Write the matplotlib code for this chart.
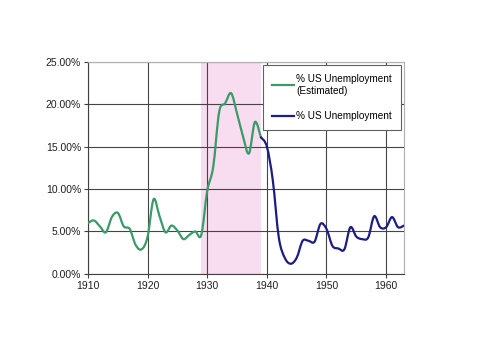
import matplotlib
matplotlib.use("Agg")
import matplotlib.pyplot as plt
import numpy as np
from matplotlib.path import Path
from matplotlib.patches import PathPatch
from matplotlib.lines import Line2D
from matplotlib.ticker import FuncFormatter

# estimated series (1910-1939)
est_years = list(range(1910, 1940))
est_rate = [6.0, 6.3, 5.6, 4.9, 6.7, 7.2, 5.6, 5.3, 3.4, 2.9,
            4.4, 8.8, 6.8, 4.9, 5.7, 5.1, 4.1, 4.6, 5.0, 4.6,
            9.8, 12.6, 19.1, 20.1, 21.3, 18.9, 16.2, 14.2, 17.9, 16.1]

# measured series (1939-1963)
bls_years = list(range(1939, 1964))
bls_rate = [16.1, 15.0, 11.0, 4.3, 1.9, 1.2, 1.9, 3.9, 3.9, 3.8,
            5.9, 5.3, 3.3, 3.0, 2.9, 5.5, 4.4, 4.1, 4.3, 6.8,
            5.5, 5.5, 6.7, 5.5, 5.7]

x_ticks = [1910, 1920, 1930, 1940, 1950, 1960]
y_ticks = [0, 5, 10, 15, 20, 25]
shade = (1929, 1939)

GREEN = "#3a9a68"
NAVY = "#1c1c84"


def smooth_path(xs, ys):
    # Excel-style smoothed line: cubic bezier segments through the data points
    p = np.column_stack([xs, ys]).astype(float)
    verts = [p[0]]
    codes = [Path.MOVETO]
    for i in range(len(p) - 1):
        p0 = p[i - 1] if i > 0 else p[i]
        p3 = p[i + 2] if i + 2 < len(p) else p[i + 1]
        c1 = p[i] + (p[i + 1] - p0) / 6
        c2 = p[i + 1] - (p3 - p[i]) / 6
        verts += [c1, c2, p[i + 1]]
        codes += [Path.CURVE4] * 3
    return Path(verts, codes)


plt.rcParams["font.family"] = ["Liberation Sans", "DejaVu Sans"]

fig = plt.figure(figsize=(5.0, 3.53), dpi=100)
ax = fig.add_axes([0.176, 0.224, 0.632, 0.601])

ax.axvspan(*shade, color="#f8dcef", lw=0, zorder=0)
for xs, ys, c in [(est_years, est_rate, GREEN), (bls_years, bls_rate, NAVY)]:
    ax.add_patch(PathPatch(smooth_path(xs, ys), fill=False, edgecolor=c,
                           lw=1.6, joinstyle="round", capstyle="round", zorder=3))

ax.set_xlim(1910, 1963)
ax.set_ylim(0, 25)
ax.set_xticks(x_ticks)
ax.set_yticks(y_ticks)
ax.yaxis.set_major_formatter(FuncFormatter(lambda v, p: f"{v:.2f}%"))
ax.tick_params(labelsize=7.5, length=3, width=0.8, color="#404040", pad=2,
               labelcolor="#202020")
ax.grid(True, color="#454545", lw=0.8, zorder=1)
ax.set_axisbelow(True)
for s in ax.spines.values():
    s.set_color("#b0b0b0")
    s.set_linewidth(0.8)
ax.spines["left"].set_color("#404040")
ax.spines["bottom"].set_color("#404040")

handles = [Line2D([], [], color=GREEN, lw=1.6), Line2D([], [], color=NAVY, lw=1.6)]
labels = ["% US Unemployment\n(Estimated)", "% US Unemployment"]
leg = ax.legend(handles, labels, loc="upper right", fontsize=7.2, frameon=True,
                fancybox=False, edgecolor="#606060", framealpha=1,
                handlelength=2.2, borderaxespad=0.3, labelspacing=1.5,
                handletextpad=0.2, borderpad=0.9)
leg.get_frame().set_linewidth(0.8)
for t in leg.get_texts():
    t.set_linespacing(1.3)

fig.savefig("out.png", dpi=100)
